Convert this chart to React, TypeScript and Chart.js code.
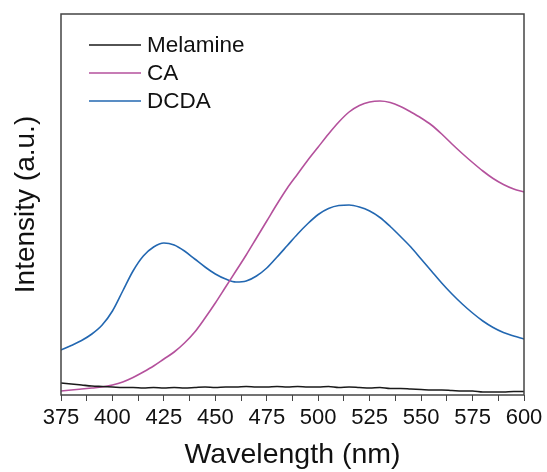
import React, { useEffect, useRef } from "react";
import { Chart, registerables } from "chart.js";

Chart.register(...registerables);

const wavelengths = [
  375, 380, 385, 390, 395, 400, 405, 410, 415, 420, 425, 430, 435, 440, 445,
  450, 455, 460, 465, 470, 475, 480, 485, 490, 495, 500, 505, 510, 515, 520,
  525, 530, 535, 540, 545, 550, 555, 560, 565, 570, 575, 580, 585, 590, 595, 600,
];

const melamine = [
  12, 11, 10, 9, 8.5,
  8, 7.5, 7.5, 7, 7.5, 7, 7.5, 7, 7.5, 8,
  7.5, 8, 8, 8.5, 8, 8, 8.5, 8, 8.5, 8,
  8, 8.5, 7.5, 8, 7.5, 7, 7.5, 6.5, 6.5, 6,
  5.5, 5, 5, 4.5, 4, 4, 3, 3, 3, 3.5,
  3.5,
];

const ca = [
  4, 5, 6, 7, 8, 10, 13, 17.5, 23, 29, 36, 43, 52, 63, 77,
  92, 108, 124, 140, 157, 174, 191, 207, 221, 235, 248, 261, 273, 283, 289.5,
  293, 294, 292.5, 288.5, 283, 277, 270, 261, 251, 241.5, 232.5, 224, 216.5, 210.5, 206, 203,
];

const dcda = [
  45, 49.5, 54.5, 61, 70, 84, 104, 124, 139, 148, 152, 150, 144, 136, 128,
  121, 116, 113, 114, 119, 127, 138, 149.5, 161, 171.5, 180.5, 186.5, 189.5, 190, 188,
  184, 177.5, 168.5, 158.5, 148, 136, 124, 112, 101, 91, 82, 74, 67.5, 62.5, 59, 56,
];

const seriesLabels = ["Melamine", "CA", "DCDA"];
const seriesColors = ["#1a1a1a", "#b4519c", "#2267b1"];
const xTickLabels = [375, 400, 425, 450, 475, 500, 525, 550, 575, 600];

const FONT = '"Liberation Sans", Arial, sans-serif';

const frameAndLegend = {
  id: "frameAndLegend",
  afterDraw(chart: any) {
    const { ctx, chartArea } = chart;
    const { left, top, right, bottom } = chartArea;
    ctx.save();
    ctx.strokeStyle = "#444";
    ctx.lineWidth = 1.5;
    ctx.strokeRect(left, top, right - left, bottom - top);

    chart.data.datasets.forEach((ds: any, i: number) => {
      const y = top + 31 + i * 28;
      ctx.strokeStyle = ds.borderColor;
      ctx.lineWidth = 1.5;
      ctx.beginPath();
      ctx.moveTo(left + 28, y);
      ctx.lineTo(left + 80, y);
      ctx.stroke();
      ctx.fillStyle = "#111";
      ctx.font = `22.5px ${FONT}`;
      ctx.textAlign = "left";
      ctx.textBaseline = "middle";
      ctx.fillText(ds.label, left + 86, y + 1);
    });
    ctx.restore();
  },
};

export default function App() {
  const canvasRef = useRef<HTMLCanvasElement | null>(null);

  useEffect(() => {
    document.body.style.margin = "0";
    const canvas = canvasRef.current;
    if (!canvas) return;
    const series = [melamine, ca, dcda];
    const chart = new Chart(canvas, {
      type: "line",
      data: {
        datasets: series.map((vals, i) => ({
          label: seriesLabels[i],
          data: wavelengths.map((w, j) => ({ x: w, y: vals[j] })),
          borderColor: seriesColors[i],
          borderWidth: 1.6,
          pointRadius: 0,
          cubicInterpolationMode: "monotone" as const,
          fill: false,
        })),
      },
      options: {
        responsive: false,
        animation: false,
        devicePixelRatio: 1,
        layout: { padding: { top: 14, right: 23, left: 0, bottom: 0 } },
        plugins: {
          legend: { display: false },
          tooltip: { enabled: false },
        },
        scales: {
          x: {
            type: "linear",
            min: 375,
            max: 600,
            afterFit: (scale: any) => {
              scale.height = 77;
            },
            grid: {
              display: true,
              drawOnChartArea: false,
              drawTicks: true,
              tickLength: 6,
              color: "#444",
              lineWidth: 1,
            },
            border: { display: false },
            ticks: {
              stepSize: 12.5,
              autoSkip: false,
              maxRotation: 0,
              padding: 4,
              color: "#111",
              font: { family: FONT, size: 22 },
              callback: (v: any) => (xTickLabels.includes(Number(v)) ? String(v) : ""),
            },
            title: {
              display: true,
              text: "Wavelength (nm)",
              color: "#111",
              font: { family: FONT, size: 28.5 },
              padding: { top: 0, bottom: 0 },
            },
          },
          y: {
            min: 0,
            max: 381,
            afterFit: (scale: any) => {
              scale.width = 61;
            },
            grid: { display: false },
            border: { display: false },
            ticks: { display: false },
            title: {
              display: true,
              text: "Intensity (a.u.)",
              color: "#111",
              font: { family: FONT, size: 28 },
              padding: { top: 9, bottom: 0 },
            },
          },
        },
      },
      plugins: [frameAndLegend],
    });
    return () => chart.destroy();
  }, []);

  return <canvas ref={canvasRef} width={547} height={472} style={{ display: "block" }} />;
}
